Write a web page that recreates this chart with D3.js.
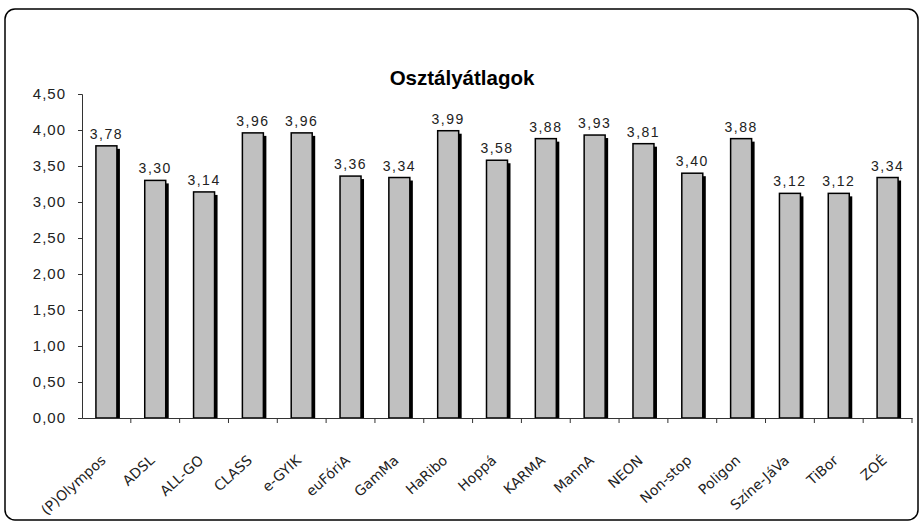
<!DOCTYPE html>
<html><head><meta charset="utf-8">
<script src="https://cdn.jsdelivr.net/npm/d3@7"></script>
<style>
body{margin:0;background:#fff;}
svg{display:block;}
</style></head>
<body>
<svg id="c" width="920" height="522"></svg>
<script>
const title = "Osztályátlagok";
const categories = ["(P)Olympos","ADSL","ALL-GO","CLASS","e-GYIK","euFóriA","GamMa","HaRibo","Hoppá","KARMA","MannA","NEON","Non-stop","Poligon","Színe-JáVa","TiBor","ZOÉ"];
const values = [3.78,3.30,3.14,3.96,3.96,3.36,3.34,3.99,3.58,3.88,3.93,3.81,3.40,3.88,3.12,3.12,3.34];
const yTicks = [0,0.5,1,1.5,2,2.5,3,3.5,4,4.5];

const svg = d3.select("#c");
const fmt = v => d3.format(".2f")(v).replace(".", ",");

// frame
svg.append("rect").attr("x",5).attr("y",9).attr("width",913).attr("height",511)
  .attr("rx",10).attr("ry",10).attr("fill","none").attr("stroke","#000").attr("stroke-width",1.5);

svg.append("text").attr("x",462).attr("y",85).attr("text-anchor","middle")
  .attr("font-family","Liberation Sans, Arial, sans-serif").attr("font-weight","bold")
  .attr("font-size",20.5).attr("fill","#000").text(title);

const x0 = 82, x1 = 912;
const x = d3.scaleBand().domain(categories).range([x0, x1]).paddingInner(0).paddingOuter(0);
const y = d3.scaleLinear().domain([0,4.5]).range([418,94]);

// y axis
const yAxis = svg.append("g").attr("transform",`translate(${x0},0)`)
  .call(d3.axisLeft(y).tickValues(yTicks).tickFormat(fmt).tickSize(4).tickPadding(12));
yAxis.select(".domain").attr("stroke","#333");
yAxis.selectAll(".tick line").attr("stroke","#333");
yAxis.selectAll("text").attr("font-family","Liberation Sans, Arial, sans-serif")
  .attr("font-size",15).attr("letter-spacing","1px").attr("fill","#222");

// bars
const bw = x.bandwidth()*0.43;
const g = svg.append("g");
const bars = g.selectAll("g.bar").data(categories.map((c,i)=>({c,v:values[i]}))).join("g");
bars.append("rect").attr("fill","#000")
  .attr("x", d => x(d.c)+x.bandwidth()/2 - bw/2 + 3)
  .attr("y", d => y(d.v)+3)
  .attr("width", bw).attr("height", d => y(0)-y(d.v)-3);
bars.append("rect").attr("fill","#c0c0c0").attr("stroke","#000").attr("stroke-width",1.5)
  .attr("x", d => x(d.c)+x.bandwidth()/2 - bw/2)
  .attr("y", d => y(d.v))
  .attr("width", bw).attr("height", d => y(0)-y(d.v));
bars.append("text").attr("text-anchor","middle")
  .attr("x", d => x(d.c)+x.bandwidth()/2)
  .attr("y", d => y(d.v)-7)
  .attr("font-family","Liberation Sans, Arial, sans-serif").attr("font-size",14)
  .attr("letter-spacing","1.5px").attr("fill","#222")
  .text(d => fmt(d.v));

// x axis
const xAxis = svg.append("g").attr("transform",`translate(0,${y(0)})`)
  .call(d3.axisBottom(x).tickSize(0).tickFormat(""));
xAxis.select(".domain").attr("stroke","#333");
xAxis.selectAll(".tick").remove();
svg.append("g").selectAll("line").data(categories.map(c => x(c) + x.bandwidth())).join("line")
  .attr("x1",d=>d).attr("x2",d=>d).attr("y1",y(0)).attr("y2",y(0)+5).attr("stroke","#333");
svg.append("g").selectAll("text").data(categories).join("text")
  .attr("transform", d => `translate(${x(d)+x.bandwidth()/2-3},${y(0)+40}) rotate(-42)`)
  .attr("text-anchor","end").attr("dy","0.35em")
  .attr("font-family","DejaVu Sans, Verdana, sans-serif").attr("font-size",14)
  .attr("fill","#222").text(d => d);
</script>
</body></html>
